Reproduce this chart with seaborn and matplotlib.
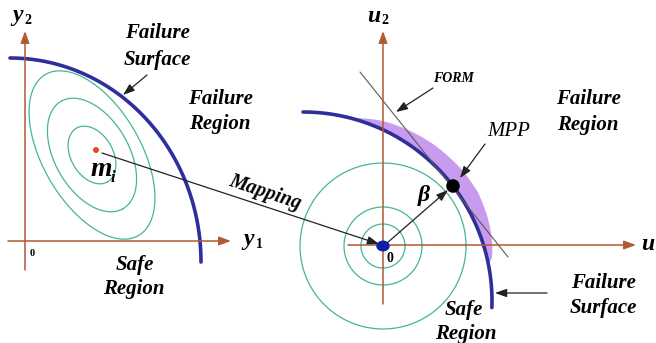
import numpy as np
import matplotlib
matplotlib.use("Agg")
import matplotlib.pyplot as plt
import seaborn as sns
from matplotlib.patches import Ellipse

# ---------------- data (diagram geometry) ----------------
contour_semi_major = [31, 62, 93]      # left panel: correlated-normal contours
contour_semi_minor = [21, 37, 49]
contour_tilt_deg = 60
contour_center = (92, 155)
mean_point = (96, 150)                 # m_i
circle_radii = [22, 39, 83]            # right panel: standard-normal contours
origin_u = (383, 246)
mpp_point = (453, 186)
left_surface_center = (10, 262)
left_surface_axes = (191, 204)
right_surface_center = (303, 301)
right_surface_radius = 189
band_angles = [75, 71, 66, 58, 50, 40, 32, 25, 20, 16, 13, 11]
band_width = [0, 4, 8, 12, 15, 17, 17, 14, 11, 8, 5, 0]
form_line_x = [360, 508]
form_line_y = [72, 257]

AXIS_C = "#b05a30"
SURF_C = "#2e2e9c"
CONT_C = "#45b596"
BAND_C = "#c99bee"

sns.set_theme(style="white")
plt.rcParams["font.family"] = ["Liberation Serif", "DejaVu Serif"]

fig = plt.figure(figsize=(6.56, 3.43), dpi=100)
ax = fig.add_axes([0, 0, 1, 1])
ax.set_xlim(0, 656)
ax.set_ylim(343, 0)
ax.axis("off")


def line(xs, ys, color, lw, z):
    sns.lineplot(x=np.asarray(xs), y=np.asarray(ys), sort=False, estimator=None,
                 color=color, lw=lw, ax=ax, legend=False, zorder=z)


def arrow(tail, tip, color, lw=1.0, hl=0.6, hw=0.22, ms=12, z=6):
    ax.annotate("", xy=tip, xytext=tail,
                arrowprops=dict(arrowstyle=f"-|>,head_length={hl},head_width={hw}",
                                color=color, lw=lw, shrinkA=0, shrinkB=0,
                                mutation_scale=ms), zorder=z)


def label(x, y, s, size=15, weight="bold", style="italic", **kw):
    ax.text(x, y, s, fontsize=size, fontweight=weight, fontstyle=style,
            ha="center", va="center", color="black", zorder=8, **kw)


# ---------------- left panel ----------------
arrow((25, 270), (25, 31), AXIS_C, lw=1.1)
arrow((8, 241), (231, 241), AXIS_C, lw=1.1)

t = np.linspace(0, 2 * np.pi, 300)
th = np.deg2rad(contour_tilt_deg)
for a, b in zip(contour_semi_major, contour_semi_minor):
    xs = contour_center[0] + a * np.cos(t) * np.cos(th) - b * np.sin(t) * np.sin(th)
    ys = contour_center[1] + a * np.cos(t) * np.sin(th) + b * np.sin(t) * np.cos(th)
    line(xs, ys, CONT_C, 0.9, 2)

phi = np.linspace(np.pi / 2, 0, 200)
line(left_surface_center[0] + left_surface_axes[0] * np.cos(phi),
     left_surface_center[1] - left_surface_axes[1] * np.sin(phi), SURF_C, 2.6, 3)

sns.scatterplot(x=[mean_point[0]], y=[mean_point[1]], color="#e8401c", s=18,
                edgecolor="none", ax=ax, zorder=7, legend=False)

# ---------------- right panel ----------------
arrow((383, 304), (383, 31), AXIS_C, lw=1.1)
arrow((348, 245), (636, 245), AXIS_C, lw=1.1)

for r in circle_radii:
    line(origin_u[0] + r * np.cos(t), origin_u[1] + r * np.sin(t), CONT_C, 0.9, 2)

ang = np.linspace(band_angles[0], band_angles[-1], 200)
w = np.interp(ang, band_angles[::-1], band_width[::-1])
ar = np.deg2rad(ang)
cx, cy = right_surface_center
R = right_surface_radius
inner_x = cx + (R - 1) * np.cos(ar)
inner_y = cy - (R - 1) * np.sin(ar)
outer_x = cx + (R + w) * np.cos(ar)
outer_y = cy - (R + w) * np.sin(ar)
ax.fill(np.r_[inner_x, outer_x[::-1]], np.r_[inner_y, outer_y[::-1]],
        color=BAND_C, lw=0, zorder=1)

phi = np.deg2rad(np.linspace(90, -2, 200))
line(cx + R * np.cos(phi), cy - R * np.sin(phi), SURF_C, 2.6, 3)

line(form_line_x, form_line_y, "#5a5a5a", 0.8, 4)

ax.add_patch(Ellipse(origin_u, 12, 9.5, color="#0b1fa6", zorder=7))
sns.scatterplot(x=[mpp_point[0]], y=[mpp_point[1]], color="black", s=95,
                edgecolor="none", ax=ax, zorder=7, legend=False)

# mapping and beta arrows
arrow((102, 153), (379, 244), "#222222", lw=0.9, hl=0.7, hw=0.25, ms=10)
arrow((387, 243), (448, 190), "#222222", lw=0.9, hl=0.7, hw=0.25, ms=10)
# pointer arrows
arrow((147, 75), (123, 95), "#222222", lw=0.9, hl=0.7, hw=0.25, ms=10)
arrow((433, 88), (396, 112), "#222222", lw=0.9, hl=0.7, hw=0.25, ms=10)
arrow((485, 144), (460, 178), "#222222", lw=0.9, hl=0.7, hw=0.25, ms=10)
arrow((547, 293), (495, 293), "#222222", lw=0.9, hl=0.7, hw=0.25, ms=10)

# ---------------- text ----------------
label(18, 16, "y", size=17)
label(28, 20, "2", size=10, style="normal")
label(249, 239, "y", size=17)
label(259, 244, "1", size=10, style="normal")
label(374, 16, "u", size=17)
label(385, 20, "2", size=10, style="normal")
label(648, 244, "u", size=17)
label(32, 253, "0", size=7.5, style="normal")
label(390, 258, "0", size=10, style="normal")

label(157, 33, "Failure")
label(157, 60, "Surface")
label(220, 99, "Failure")
label(220, 124, "Region")
label(135, 265, "Safe")
label(134, 289, "Region")
label(101, 170, "m", size=20)
label(113, 178, "i", size=12)
label(265, 192, "Mapping", size=14.5, rotation=-18.5, rotation_mode="anchor")
label(424, 195, "β", size=17)
label(453, 79, "FORM", size=10)
label(509, 132, "MPP", size=15, weight="normal")
label(588, 99, "Failure")
label(588, 125, "Region")
label(603, 283, "Failure")
label(603, 308, "Surface")
label(464, 310, "Safe")
label(466, 334, "Region")

fig.savefig("out.png", dpi=100)
